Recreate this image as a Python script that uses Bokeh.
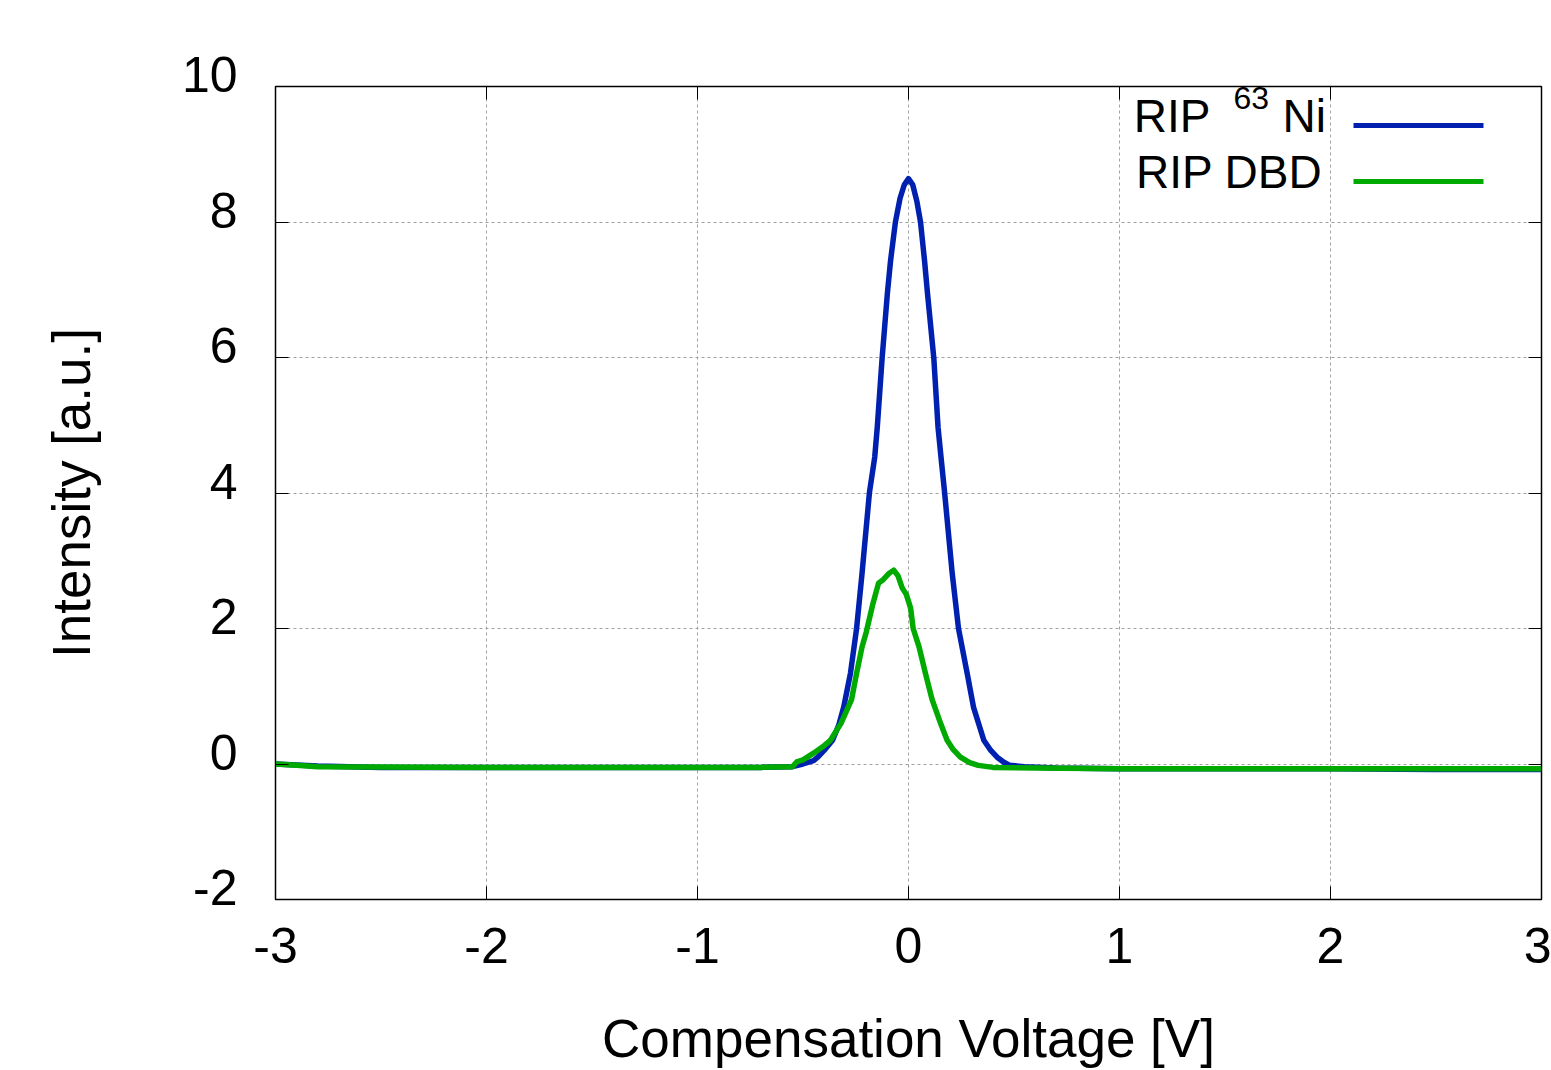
from bokeh.plotting import figure
from bokeh.models import (ColumnDataSource, LinearAxis, Label, Arrow, Range1d,
                          CustomJSTickFormatter)
from bokeh.embed import file_html
from bokeh.resources import INLINE

# ---- data ----
ni_x = [-3.0, -2.8, -2.5, -2.0, -1.5, -1.0, -0.7, -0.55, -0.50, -0.45, -0.43, -0.40,
        -0.36, -0.33, -0.307, -0.275, -0.246, -0.22, -0.185, -0.16, -0.148, -0.125,
        -0.10, -0.085, -0.062, -0.04, -0.02, 0.0, 0.02, 0.04, 0.057, 0.076, 0.09,
        0.12, 0.14, 0.155, 0.171, 0.207, 0.237, 0.278, 0.308, 0.357, 0.39, 0.42,
        0.45, 0.48, 0.55, 0.7, 1.0, 1.5, 2.0, 2.5, 3.0]
ni_y = [0.0, -0.03, -0.05, -0.05, -0.05, -0.05, -0.05, -0.04, 0.0, 0.05, 0.10, 0.20,
        0.35, 0.58, 0.84, 1.34, 2.0, 2.82, 4.01, 4.53, 4.97, 5.99,
        6.95, 7.43, 8.0, 8.35, 8.55, 8.64, 8.55, 8.3, 8.0, 7.43, 6.95,
        5.99, 4.97, 4.5, 4.01, 2.82, 2.0, 1.34, 0.84, 0.35, 0.20, 0.10,
        0.03, -0.02, -0.04, -0.06, -0.07, -0.07, -0.07, -0.08, -0.08]

dbd_x = [-3.0, -2.9, -2.8, -2.0, -1.0, -0.7, -0.55, -0.53, -0.50, -0.45, -0.40, -0.37,
         -0.32, -0.27, -0.246, -0.22, -0.20, -0.17, -0.142, -0.12, -0.09, -0.07,
         -0.05, -0.03, -0.01, 0.01, 0.022, 0.05, 0.08, 0.112, 0.152, 0.183, 0.21,
         0.246, 0.29, 0.33, 0.4, 0.6, 1.0, 2.0, 3.0]
dbd_y = [0.0, -0.02, -0.04, -0.05, -0.05, -0.05, -0.04, 0.03, 0.06, 0.16, 0.27, 0.35,
         0.60, 0.95, 1.34, 1.73, 1.95, 2.35, 2.67, 2.72, 2.82, 2.86,
         2.78, 2.6, 2.5, 2.3, 2.0, 1.73, 1.34, 0.95, 0.60, 0.35, 0.22,
         0.10, 0.02, -0.02, -0.05, -0.06, -0.07, -0.07, -0.07]

x_ticks = [-3, -2, -1, 0, 1, 2, 3]
y_ticks = [-2, 0, 2, 4, 6, 8, 10]
x_tick_labels = ["-3", "-2", "-1", "0", "1", "2", "3"]
y_tick_labels = ["-2", "0", "2", "4", "6", "8", "10"]

BLUE = "#0020b0"
GREEN = "#00aa00"
FONT = "Liberation Sans"

W, H = 1551, 1070
p = figure(width=W, height=H, output_backend="svg", toolbar_location=None,
           x_range=Range1d(-3, 3), y_range=Range1d(-2, 10),
           min_border_left=275, min_border_right=10, min_border_top=86,
           min_border_bottom=163)
p.background_fill_color = "white"
p.border_fill_color = "white"
p.outline_line_color = "black"
p.outline_line_width = 1.5

# grid
for g in (p.xgrid, p.ygrid):
    g.grid_line_color = "#a0a0a0"
    g.grid_line_dash = "3 3"
    g.grid_line_width = 1
p.xgrid.ticker = x_ticks
p.ygrid.ticker = y_ticks

blank = CustomJSTickFormatter(code="return ''")

# main axes
xa = p.xaxis[0]
ya = p.yaxis[0]
xa.ticker = x_ticks
ya.ticker = y_ticks
for ax in (xa, ya):
    ax.major_tick_in = 13
    ax.major_tick_out = 0
    ax.minor_tick_line_color = None
    ax.axis_line_color = "black"
    ax.major_tick_line_color = "black"
    ax.major_label_text_font = FONT
    ax.major_label_text_font_size = "50px"
    ax.major_label_text_color = "black"
    ax.axis_label_text_font = FONT
    ax.axis_label_text_font_size = "53px"
    ax.axis_label_text_font_style = "normal"
    ax.axis_label_text_color = "black"
xa.major_label_overrides = {t: s for t, s in zip(x_ticks, x_tick_labels)}
xa.axis_label = "Compensation Voltage [V]"
ya.axis_label = "Intensity [a.u.]"
xa.major_label_standoff = 28
xa.axis_label_standoff = 43
# y tick labels: a trailing empty line lifts each label a little above its tick
ya.major_label_overrides = {t: s + "\n" for t, s in zip(y_ticks, y_tick_labels)}
ya.major_label_text_line_height = 0.4
ya.major_label_standoff = 38
ya.axis_label_standoff = 78

# mirrored axes (ticks only)
top = LinearAxis(ticker=x_ticks, major_tick_in=13, major_tick_out=0,
                 minor_tick_line_color=None, formatter=blank,
                 major_label_standoff=0,
                 axis_line_color="black", major_tick_line_color="black")
right = LinearAxis(ticker=y_ticks, major_tick_in=13, major_tick_out=0,
                   minor_tick_line_color=None, formatter=blank,
                   major_label_standoff=0,
                   axis_line_color="black", major_tick_line_color="black")
p.add_layout(top, "above")
p.add_layout(right, "right")

# data lines
src_ni = ColumnDataSource(dict(x=ni_x, y=ni_y))
src_dbd = ColumnDataSource(dict(x=dbd_x, y=dbd_y))
p.line("x", "y", source=src_ni, line_color=BLUE, line_width=5.5, line_join="round")
p.line("x", "y", source=src_dbd, line_color=GREEN, line_width=5.5, line_join="round")

# legend (gnuplot style: text then sample); screen units are frame-relative
def lab(text, x, y, size, align="left"):
    p.add_layout(Label(x=x, y=y, x_units="screen", y_units="screen", text=text,
                       text_font=FONT, text_font_size=size, text_color="black",
                       text_align=align, text_baseline="alphabetic"))

lab("RIP", 935, 784, "46px", align="right")
lab("63", 958, 802, "32px")
lab("Ni", 1007, 784, "46px")
lab("RIP DBD", 1047, 728, "46px", align="right")
p.add_layout(Arrow(x_start=1078, y_start=774, x_end=1208, y_end=774,
                   start_units="screen", end_units="screen", end=None,
                   line_color=BLUE, line_width=5))
p.add_layout(Arrow(x_start=1078, y_start=718, x_end=1208, y_end=718,
                   start_units="screen", end_units="screen", end=None,
                   line_color=GREEN, line_width=5))

open("out.html", "w").write(file_html(p, INLINE))
